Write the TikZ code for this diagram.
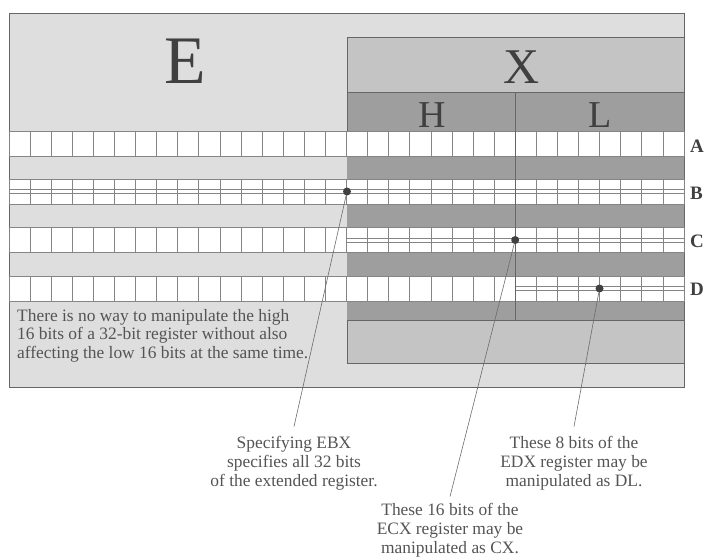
\documentclass[tikz,border=0pt]{standalone}
\usepackage{fontspec}
\setmainfont{Liberation Serif}
\usetikzlibrary{positioning}
\definecolor{paleE}{gray}{0.87}
\definecolor{midX}{gray}{0.77}
\definecolor{darkX}{gray}{0.62}
\definecolor{gridln}{gray}{0.52}
\definecolor{edgeln}{gray}{0.40}
\definecolor{inkgray}{gray}{0.25}
\definecolor{notegray}{gray}{0.33}
\tikzset{
x=1pt, y=-1pt, % one unit per pixel, y grows downwards
frame/.style={draw=edgeln, line width=0.8pt}, % outer box and the X box
bitrow/.style={fill=white, draw=gridln, line width=0.7pt}, % a row of 32 bits
bitline/.style={draw=gridln, line width=0.7pt}, % the lines between bits
bigletter/.style={text=inkgray, inner sep=0pt, anchor=base}, % E, X, H, L
rowlabel/.style={text=inkgray, inner sep=0pt, anchor=base west, font=\fontsize{19}{19}\selectfont\bfseries},
bitdot/.style={circle, fill=inkgray, inner sep=0pt, minimum size=8pt}, % marks the bits a name picks
note/.style={text=notegray, inner sep=0pt, font=\fontsize{17.4}{18.5}\selectfont},
callout/.style={note, align=center, anchor=base, inner xsep=0pt, inner ysep=9pt, font=\fontsize{17.4}{19}\selectfont},
pointer/.style={draw=gray!85!black, line width=0.6pt}, % thin line from a dot to its text
}
\begin{document}
\begin{tikzpicture}
\useasboundingbox (0,0) rectangle (704,558);
% boxes
\draw[frame, fill=paleE] (9,13) rectangle (684,387);
\draw[frame, fill=midX] (347,37) rectangle (684,363);
\draw[frame, fill=darkX] (347,92) rectangle (684,131);
\fill[darkX] (347,131) rectangle (684,320);
\draw[frame] (347,320) -- (684,320);
% the four registers
\foreach \t in {131,179,227.5,276} {
  \draw[bitrow] (9,\t) rectangle (684,\t+25);
  \foreach \i in {1,...,31}
    \draw[bitline] (9+\i*21.09375,\t) -- ++(0,25);
}
% split rows: where the halves can be used on their own
\foreach \t/\s in {179/9, 227.5/347, 276/515.2} {
  \draw[bitline] (\s,\t+10.5) -- (684,\t+10.5);
  \draw[bitline] (\s,\t+14.5) -- (684,\t+14.5);
}
\draw[frame] (515.2,92) -- (515.2,320);
% names of the parts
\node[bigletter, font=\fontsize{68}{68}\selectfont] (lab_E) at (185,83) {E};
\node[bigletter, font=\fontsize{50}{50}\selectfont] (lab_X) at (522,83) {X};
\node[bigletter, font=\fontsize{38}{38}\selectfont] (lab_H) at (432,127) {H};
\node[bigletter, font=\fontsize{38}{38}\selectfont] (lab_L) at (600,127) {L};
\node[rowlabel] (row_A) at (690,152) {A};
\node[rowlabel] (row_B) at (690,199) {B};
\node[rowlabel] (row_C) at (690,247) {C};
\node[rowlabel] (row_D) at (690,295) {D};
\node[note, anchor=base west, align=left] (note_E) at (17,358)
  {There is no way to manipulate the high\\16 bits of a 32-bit register without also\\affecting the low 16 bits at the same time.};
% dots and what they mean
\node[bitdot] (dot_B) at (347,191.5) {};
\node[bitdot] (dot_C) at (515.2,240) {};
\node[bitdot] (dot_D) at (599.5,288.5) {};
\node[callout] (txt_EBX) at (294,486) {Specifying EBX\\specifies all 32 bits\\of the extended register.};
\node[callout, inner ysep=6pt] (txt_ECX) at (450,553) {These 16 bits of the\\ECX register may be\\manipulated as CX.};
\node[callout] (txt_EDX) at (574,486) {These 8 bits of the\\EDX register may be\\manipulated as DL.};
\draw[pointer] (dot_B) -- (txt_EBX.north);
\draw[pointer] (dot_C) -- (txt_ECX.north);
\draw[pointer] (dot_D) -- (txt_EDX.north);
\end{tikzpicture}
\end{document}
